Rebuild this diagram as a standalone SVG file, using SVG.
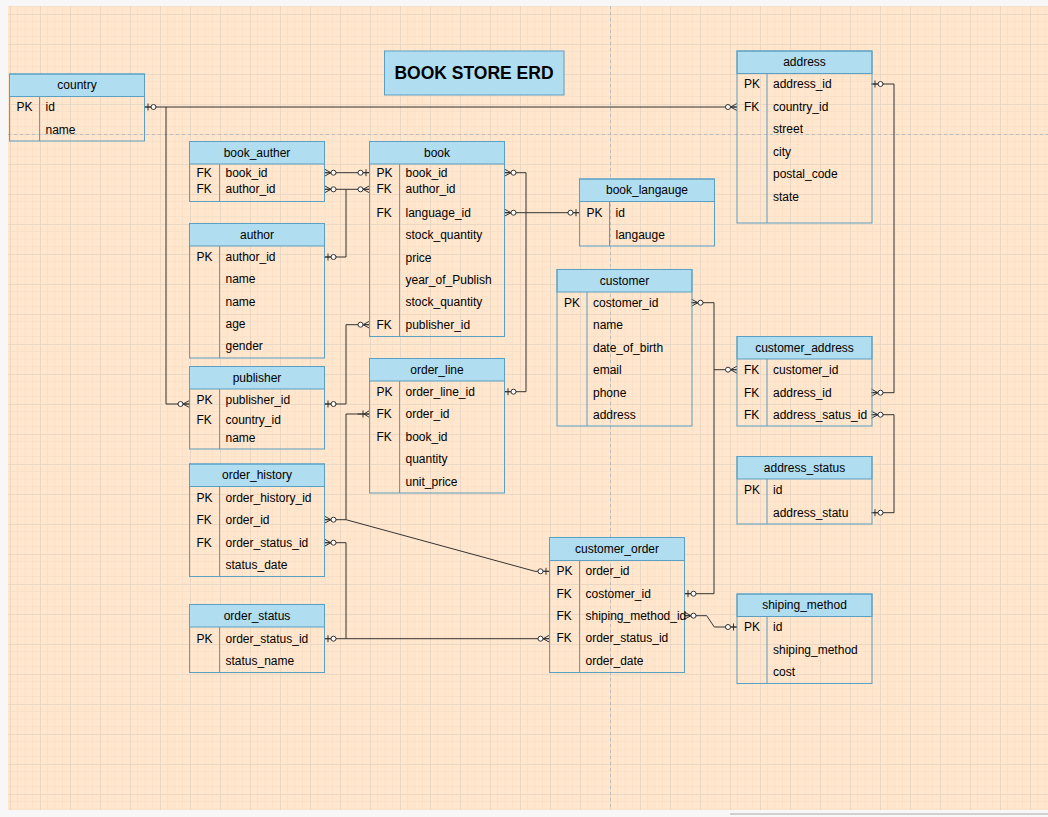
<svg xmlns="http://www.w3.org/2000/svg" xmlns:xlink="http://www.w3.org/1999/xlink" width="1048" height="817" viewBox="0 0 1048 817">
<style>
.hdr{fill:#b1ddf0;stroke:#5a9fc4;stroke-width:1}
.box{fill:none;stroke:#5a9fc4;stroke-width:1}
.dv{stroke:#5a9fc4;stroke-width:1}
text{font-family:"Liberation Sans",Arial,Helvetica,sans-serif;font-size:12px;fill:#000}
.t{text-anchor:middle}
.cn{fill:none;stroke:#333;stroke-width:1}
.mk{fill:none;stroke:#333;stroke-width:1}
.mk circle{fill:#fff}
.pb{stroke:#bdbdbd;stroke-width:1;stroke-dasharray:3 3}
</style>
<defs>
<pattern id="grid" x="10" y="14" width="30" height="30" patternUnits="userSpaceOnUse">
<path d="M7.5,0V30M15,0V30M22.5,0V30M0,7.5H30M0,15H30M0,22.5H30" stroke="#f9e1c9" stroke-width="1" fill="none"/>
<path d="M0.5,0V30M0,0.5H30" stroke="#ead7c4" stroke-width="1" fill="none"/>
</pattern>
<g id="zo" class="mk"><line x1="0" y1="0" x2="12" y2="0"/><line x1="3.5" y1="-3.5" x2="3.5" y2="3.5"/><circle cx="9" cy="0" r="2.5"/></g>
<g id="zm" class="mk"><path d="M0,-3.5L6.5,0L0,3.5M0,0H12"/><circle cx="9" cy="0" r="2.5"/></g>
<g id="om" class="mk"><path d="M0,-3.5L5.5,0L0,3.5M0,0H12M6.5,-3.5V3.5"/></g>
</defs>
<rect x="0" y="0" width="1048" height="817" fill="#f7f7f7"/>
<rect x="8" y="6" width="1040" height="804" fill="#ffe6cc"/>
<rect x="8" y="6" width="1040" height="804" fill="url(#grid)"/>
<line class="pb" x1="610.5" y1="6" x2="610.5" y2="810"/>
<line class="pb" x1="8" y1="134.5" x2="1048" y2="134.5"/>
<line x1="730" y1="814" x2="1048" y2="814" stroke="#d0d0d0" stroke-width="2"/>

<g id="title">
<rect x="384.5" y="51" width="179.5" height="44" fill="#b1ddf0" stroke="#5a9fc4"/>
<text x="474" y="79" text-anchor="middle" style="font-size:17.5px;font-weight:bold">BOOK STORE ERD</text>
</g>

<g id="connectors">
<path class="cn" d="M144.5,107H737"/>
<path class="cn" d="M166,107V404H189.5"/>
<path class="cn" d="M324.5,172.7H369.5"/>
<path class="cn" d="M324.5,257H346V189.3H324.5"/>
<path class="cn" d="M346,189.3H369.5"/>
<path class="cn" d="M504.5,172.7H526V391.7H504.5"/>
<path class="cn" d="M504.5,212.7H579.5"/>
<path class="cn" d="M324.5,404H346V324.7H369.5"/>
<path class="cn" d="M324.5,519.7H346V414H369.5"/>
<path class="cn" d="M346,519.7L535,571.3H549.5"/>
<path class="cn" d="M324.5,542.7H346V638.7H324.5"/>
<path class="cn" d="M346,638.7H549.5"/>
<path class="cn" d="M691.5,302.7H714V593.7H684.5"/>
<path class="cn" d="M714,369.7H737"/>
<path class="cn" d="M871.5,84H894V392.7H871.5"/>
<path class="cn" d="M871.5,414.7H894V512.7H871.5"/>
<path class="cn" d="M684.5,615.7H706.7L714.3,627H737"/>
<use xlink:href="#zo" transform="translate(144.5,107)"/>
<use xlink:href="#zm" transform="translate(737,107) scale(-1,1)"/>
<use xlink:href="#zm" transform="translate(189.5,404) scale(-1,1)"/>
<use xlink:href="#zm" transform="translate(324.5,172.7)"/>
<use xlink:href="#zo" transform="translate(369.5,172.7) scale(-1,1)"/>
<use xlink:href="#zo" transform="translate(324.5,257)"/>
<use xlink:href="#zm" transform="translate(324.5,189.3)"/>
<use xlink:href="#zm" transform="translate(369.5,189.3) scale(-1,1)"/>
<use xlink:href="#zm" transform="translate(504.5,172.7)"/>
<use xlink:href="#zo" transform="translate(504.5,391.7)"/>
<use xlink:href="#zm" transform="translate(504.5,212.7)"/>
<use xlink:href="#zo" transform="translate(579.5,212.7) scale(-1,1)"/>
<use xlink:href="#zo" transform="translate(324.5,404)"/>
<use xlink:href="#zm" transform="translate(369.5,324.7) scale(-1,1)"/>
<use xlink:href="#zm" transform="translate(324.5,519.7)"/>
<use xlink:href="#om" transform="translate(369.5,414) scale(-1,1)"/>
<use xlink:href="#zo" transform="translate(549.5,571.3) scale(-1,1)"/>
<use xlink:href="#zm" transform="translate(324.5,542.7)"/>
<use xlink:href="#zo" transform="translate(324.5,638.7)"/>
<use xlink:href="#zm" transform="translate(549.5,638.7) scale(-1,1)"/>
<use xlink:href="#zm" transform="translate(691.5,302.7)"/>
<use xlink:href="#zo" transform="translate(684.5,593.7)"/>
<use xlink:href="#zm" transform="translate(737,369.7) scale(-1,1)"/>
<use xlink:href="#zo" transform="translate(871.5,84)"/>
<use xlink:href="#zm" transform="translate(871.5,392.7)"/>
<use xlink:href="#zm" transform="translate(871.5,414.7)"/>
<use xlink:href="#zo" transform="translate(871.5,512.7)"/>
<use xlink:href="#zm" transform="translate(684.5,615.7)"/>
<use xlink:href="#zo" transform="translate(737,627) scale(-1,1)"/>
</g>

<g id="country">
<rect class="hdr" x="9.5" y="74" width="135" height="22.5"/>
<rect class="box" x="9.5" y="74" width="135" height="67"/>
<line class="dv" x1="39.5" y1="96.5" x2="39.5" y2="141"/>
<text class="t" x="77" y="89">country</text>
<text x="16.5" y="111">PK</text><text x="45.5" y="111">id</text>
<text x="45.5" y="134">name</text>
</g>

<g id="book_auther">
<rect class="hdr" x="189.5" y="141.5" width="135" height="22.5"/>
<rect class="box" x="189.5" y="141.5" width="135" height="60"/>
<line class="dv" x1="219.5" y1="164" x2="219.5" y2="201.5"/>
<text class="t" x="257" y="157">book_auther</text>
<text x="196.5" y="176.7">FK</text><text x="225.5" y="176.7">book_id</text>
<text x="196.5" y="193.3">FK</text><text x="225.5" y="193.3">author_id</text>
</g>

<g id="author">
<rect class="hdr" x="189.5" y="223.5" width="135" height="22.5"/>
<rect class="box" x="189.5" y="223.5" width="135" height="134.5"/>
<line class="dv" x1="219.5" y1="246" x2="219.5" y2="358"/>
<text class="t" x="257" y="239">author</text>
<text x="196.5" y="261">PK</text><text x="225.5" y="261">author_id</text>
<text x="225.5" y="283.3">name</text>
<text x="225.5" y="305.7">name</text>
<text x="225.5" y="328">age</text>
<text x="225.5" y="350.3">gender</text>
</g>

<g id="book">
<rect class="hdr" x="369.5" y="141.5" width="135" height="22.5"/>
<rect class="box" x="369.5" y="141.5" width="135" height="195"/>
<line class="dv" x1="399.5" y1="164" x2="399.5" y2="336.5"/>
<text class="t" x="437" y="157">book</text>
<text x="376.5" y="176.7">PK</text><text x="405.5" y="176.7">book_id</text>
<text x="376.5" y="193.3">FK</text><text x="405.5" y="193.3">author_id</text>
<text x="376.5" y="216.7">FK</text><text x="405.5" y="216.7">language_id</text>
<text x="405.5" y="239">stock_quantity</text>
<text x="405.5" y="261.7">price</text>
<text x="405.5" y="283.7">year_of_Publish</text>
<text x="405.5" y="306.3">stock_quantity</text>
<text x="376.5" y="328.7">FK</text><text x="405.5" y="328.7">publisher_id</text>
</g>

<g id="book_langauge">
<rect class="hdr" x="579.5" y="179" width="135" height="22.5"/>
<rect class="box" x="579.5" y="179" width="135" height="67"/>
<line class="dv" x1="609.5" y1="201.5" x2="609.5" y2="246"/>
<text class="t" x="647" y="194.3">book_langauge</text>
<text x="586.5" y="216.7">PK</text><text x="615.5" y="216.7">id</text>
<text x="615.5" y="239">langauge</text>
</g>

<g id="address">
<rect class="hdr" x="737" y="51" width="135" height="22.5"/>
<rect class="box" x="737" y="51" width="135" height="172"/>
<line class="dv" x1="767" y1="73.5" x2="767" y2="223"/>
<text class="t" x="804.5" y="66.3">address</text>
<text x="744" y="88">PK</text><text x="773" y="88">address_id</text>
<text x="744" y="110.7">FK</text><text x="773" y="110.7">country_id</text>
<text x="773" y="133">street</text>
<text x="773" y="155.7">city</text>
<text x="773" y="178">postal_code</text>
<text x="773" y="200.7">state</text>
</g>

<g id="publisher">
<rect class="hdr" x="189.5" y="366.5" width="135" height="22.5"/>
<rect class="box" x="189.5" y="366.5" width="135" height="82.5"/>
<line class="dv" x1="219.5" y1="389" x2="219.5" y2="449"/>
<text class="t" x="257" y="381.8">publisher</text>
<text x="196.5" y="403.5">PK</text><text x="225.5" y="403.5">publisher_id</text>
<text x="196.5" y="423.7">FK</text><text x="225.5" y="423.7">country_id</text>
<text x="225.5" y="441.7">name</text>
</g>

<g id="order_history">
<rect class="hdr" x="189.5" y="464" width="135" height="22.5"/>
<rect class="box" x="189.5" y="464" width="135" height="112.5"/>
<line class="dv" x1="219.5" y1="486.5" x2="219.5" y2="576.5"/>
<text class="t" x="257" y="479.3">order_history</text>
<text x="196.5" y="501.7">PK</text><text x="225.5" y="501.7">order_history_id</text>
<text x="196.5" y="523.7">FK</text><text x="225.5" y="523.7">order_id</text>
<text x="196.5" y="546.7">FK</text><text x="225.5" y="546.7">order_status_id</text>
<text x="225.5" y="568.7">status_date</text>
</g>

<g id="order_line">
<rect class="hdr" x="369.5" y="358.5" width="135" height="22.5"/>
<rect class="box" x="369.5" y="358.5" width="135" height="134.5"/>
<line class="dv" x1="399.5" y1="381" x2="399.5" y2="493"/>
<text class="t" x="437" y="373.8">order_line</text>
<text x="376.5" y="395.7">PK</text><text x="405.5" y="395.7">order_line_id</text>
<text x="376.5" y="418">FK</text><text x="405.5" y="418">order_id</text>
<text x="376.5" y="440.7">FK</text><text x="405.5" y="440.7">book_id</text>
<text x="405.5" y="463">quantity</text>
<text x="405.5" y="485.7">unit_price</text>
</g>

<g id="customer">
<rect class="hdr" x="557" y="269.5" width="135" height="22.5"/>
<rect class="box" x="557" y="269.5" width="135" height="156.5"/>
<line class="dv" x1="587" y1="292" x2="587" y2="426"/>
<text class="t" x="624.5" y="284.8">customer</text>
<text x="564" y="306.7">PK</text><text x="593" y="306.7">costomer_id</text>
<text x="593" y="328.7">name</text>
<text x="593" y="351.7">date_of_birth</text>
<text x="593" y="373.7">email</text>
<text x="593" y="396.7">phone</text>
<text x="593" y="418.7">address</text>
</g>

<g id="customer_address">
<rect class="hdr" x="737" y="336.5" width="135" height="22.5"/>
<rect class="box" x="737" y="336.5" width="135" height="89.5"/>
<line class="dv" x1="767" y1="359" x2="767" y2="426"/>
<text class="t" x="804.5" y="351.8">customer_address</text>
<text x="744" y="373.7">FK</text><text x="773" y="373.7">customer_id</text>
<text x="744" y="396.7">FK</text><text x="773" y="396.7">address_id</text>
<text x="744" y="418.7">FK</text><text x="773" y="418.7">address_satus_id</text>
</g>

<g id="address_status">
<rect class="hdr" x="737" y="456.5" width="135" height="22.5"/>
<rect class="box" x="737" y="456.5" width="135" height="67.5"/>
<line class="dv" x1="767" y1="479" x2="767" y2="524"/>
<text class="t" x="804.5" y="471.8">address_status</text>
<text x="744" y="494">PK</text><text x="773" y="494">id</text>
<text x="773" y="516.7">address_statu</text>
</g>

<g id="order_status">
<rect class="hdr" x="189.5" y="604.5" width="135" height="22.5"/>
<rect class="box" x="189.5" y="604.5" width="135" height="68"/>
<line class="dv" x1="219.5" y1="627" x2="219.5" y2="672.5"/>
<text class="t" x="257" y="619.8">order_status</text>
<text x="196.5" y="642.7">PK</text><text x="225.5" y="642.7">order_status_id</text>
<text x="225.5" y="664.7">status_name</text>
</g>

<g id="customer_order">
<rect class="hdr" x="549.5" y="537.5" width="135" height="23"/>
<rect class="box" x="549.5" y="537.5" width="135" height="135"/>
<line class="dv" x1="579.5" y1="560.5" x2="579.5" y2="672.5"/>
<text class="t" x="617" y="553">customer_order</text>
<text x="556.5" y="575.3">PK</text><text x="585.5" y="575.3">order_id</text>
<text x="556.5" y="597.7">FK</text><text x="585.5" y="597.7">costomer_id</text>
<text x="556.5" y="619.7">FK</text><text x="585.5" y="619.7">shiping_method_id</text>
<text x="556.5" y="642.3">FK</text><text x="585.5" y="642.3">order_status_id</text>
<text x="585.5" y="664.7">order_date</text>
</g>

<g id="shiping_method">
<rect class="hdr" x="737" y="594" width="135" height="22.5"/>
<rect class="box" x="737" y="594" width="135" height="89.5"/>
<line class="dv" x1="767" y1="616.5" x2="767" y2="683.5"/>
<text class="t" x="804.5" y="609.3">shiping_method</text>
<text x="744" y="631">PK</text><text x="773" y="631">id</text>
<text x="773" y="653.7">shiping_method</text>
<text x="773" y="675.7">cost</text>
</g>
</svg>
